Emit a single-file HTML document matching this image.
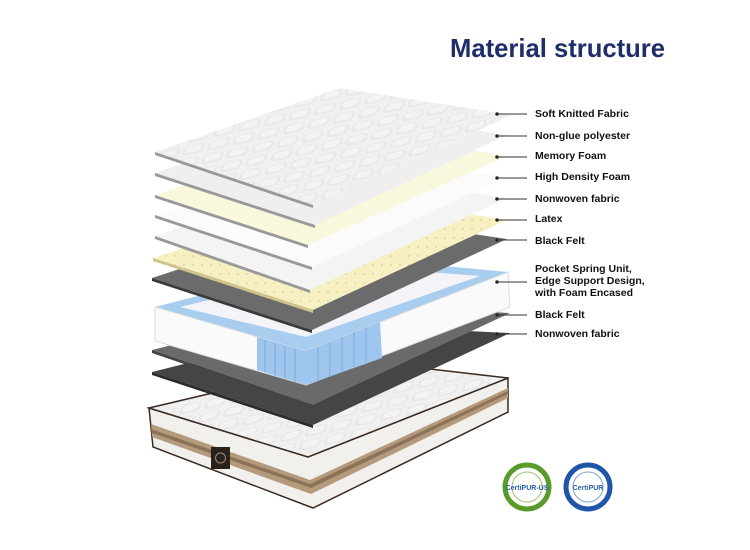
<!DOCTYPE html>
<html><head><meta charset="utf-8"><style>
html,body{margin:0;padding:0;background:#fff;}
svg{display:block;}
text{font-family:"Liberation Sans",Arial,sans-serif;}
.l{font-size:10.5px;font-weight:bold;fill:#111;}
</style></head><body>
<svg width="750" height="550" viewBox="0 0 750 550" xmlns="http://www.w3.org/2000/svg">
<defs>
<pattern id="q" width="22" height="14" patternUnits="userSpaceOnUse" patternTransform="skewX(-35) rotate(-14)">
<rect width="22" height="14" fill="#f0f0f0"/>
<rect x="2" y="2" width="18" height="10" rx="4" fill="#e8e8e8"/>
<rect x="4" y="3" width="14" height="7" rx="3" fill="#f3f3f3"/>
</pattern>
<pattern id="dots" width="9" height="9" patternUnits="userSpaceOnUse">
<rect width="9" height="9" fill="#f7f0c2"/><circle cx="4" cy="4" r="0.6" fill="#b7ad70"/>
</pattern>
</defs>
<rect width="750" height="550" fill="#fff"/>
<text x="450" y="57" font-size="26" font-weight="bold" fill="#1f2d6b" textLength="215" lengthAdjust="spacingAndGlyphs">Material structure</text>

<polygon points="149,408 153,447 313,508 508,412 508,378 308,457" fill="#f2f0ec" stroke="#3a2a22" stroke-width="1.5"/>
<polygon points="151,424 152,437 311,494 508,398 508,388 310,480" fill="#b49a7c"/>
<polygon points="151,429 152,433 311,488 508,394 508,391 310,484" fill="#8c7358"/>
<polygon points="149,408 352,360 508,378 308,457" fill="url(#q)" stroke="#3a2a22" stroke-width="1.5"/>
<rect x="211" y="447" width="19" height="22" fill="#2b211c"/>
<circle cx="220.5" cy="458" r="5" fill="none" stroke="#9c8a70" stroke-width="1"/>

<polygon points="152,372 340,325 510,333 313,425" fill="#454545"/>
<polygon points="152,372 313,425 313,428 152,375" fill="#2b2b2b"/>
<polygon points="152,350 340,303 510,313 313,405" fill="#6a6a6a"/>
<polygon points="152,350 313,405 313,408 152,353" fill="#444"/>

<polygon points="155,307 350,257 508,272 306,351" fill="#a9cdef"/>
<polygon points="180,307 350,266 480,276 306,337" fill="#f3f3f8"/>
<polygon points="155,307 306,351 306,385 155,341" fill="#fafafa" stroke="#ddd"/>
<polygon points="306,351 508,272 510,307 306,385" fill="#fafafa" stroke="#ddd"/>
<polygon points="257,337 306,351 380,322 382,358 306,385 257,370" fill="#9ec6ef"/>
<g stroke="#7ea9d6" stroke-width="1">
<line x1="265" y1="340" x2="265" y2="372"/><line x1="275" y1="343" x2="275" y2="376"/><line x1="285" y1="346" x2="285" y2="379"/><line x1="295" y1="349" x2="295" y2="382"/>
<line x1="318" y1="347" x2="318" y2="380"/><line x1="330" y1="342" x2="330" y2="376"/><line x1="342" y1="337" x2="342" y2="371"/><line x1="354" y1="332" x2="354" y2="367"/><line x1="366" y1="327" x2="366" y2="362"/>
</g>

<polygon points="152,278 345,215 507,239 312,330" fill="#6b6b6b"/>
<polygon points="152,278 312,330 312,333 152,281" fill="#3a3a3a"/>
<polygon points="153,258 345,195 507,220 313,310" fill="url(#dots)"/>
<polygon points="153,258 313,310 313,313 153,261" fill="#cfc48a"/>
<polygon points="155,236 345,173 507,198 310,290" fill="#f4f4f4"/>
<polygon points="155,236 310,290 310,293 155,239" fill="#999"/>
<polygon points="155,215 345,152 507,177 312,267" fill="#fbfbfb"/>
<polygon points="155,215 312,267 312,270 155,218" fill="#999"/>
<polygon points="155,195 345,131 507,156 308,245" fill="#f9f7dc"/>
<polygon points="155,195 308,245 308,248 155,198" fill="#999"/>
<polygon points="155,173 345,110 507,135 315,225" fill="#efefef"/>
<polygon points="155,173 315,225 315,228 155,176" fill="#999"/>
<polygon points="155,152 340,88 512,115 313,205" fill="url(#q)"/>
<polygon points="155,152 313,205 313,208 155,155" fill="#999"/>

<g stroke="#333" stroke-width="1" fill="#111">
<line x1="497" y1="114" x2="527" y2="114"/><circle cx="497" cy="114" r="1.3"/>
<line x1="497" y1="136" x2="527" y2="136"/><circle cx="497" cy="136" r="1.3"/>
<line x1="497" y1="157" x2="527" y2="157"/><circle cx="497" cy="157" r="1.3"/>
<line x1="497" y1="178" x2="527" y2="178"/><circle cx="497" cy="178" r="1.3"/>
<line x1="497" y1="199" x2="527" y2="199"/><circle cx="497" cy="199" r="1.3"/>
<line x1="497" y1="220" x2="527" y2="220"/><circle cx="497" cy="220" r="1.3"/>
<line x1="497" y1="240" x2="527" y2="240"/><circle cx="497" cy="240" r="1.3"/>
<line x1="497" y1="282" x2="527" y2="282"/><circle cx="497" cy="282" r="1.3"/>
<line x1="497" y1="315" x2="527" y2="315"/><circle cx="497" cy="315" r="1.3"/>
<line x1="497" y1="334" x2="527" y2="334"/><circle cx="497" cy="334" r="1.3"/>
</g>
<text class="l" x="535" y="117">Soft Knitted Fabric</text>
<text class="l" x="535" y="139">Non-glue polyester</text>
<text class="l" x="535" y="159">Memory Foam</text>
<text class="l" x="535" y="180">High Density Foam</text>
<text class="l" x="535" y="202">Nonwoven fabric</text>
<text class="l" x="535" y="222">Latex</text>
<text class="l" x="535" y="244">Black Felt</text>
<text class="l" x="535" y="272">Pocket Spring Unit,</text>
<text class="l" x="535" y="284">Edge Support Design,</text>
<text class="l" x="535" y="296">with Foam Encased</text>
<text class="l" x="535" y="318">Black Felt</text>
<text class="l" x="535" y="337">Nonwoven fabric</text>

<circle cx="527" cy="487" r="22" fill="#fff" stroke="#5a9a2a" stroke-width="5"/>
<circle cx="527" cy="487" r="15" fill="none" stroke="#9cc56e" stroke-width="1"/>
<text x="527" y="490" font-size="7" font-weight="bold" fill="#2a5fa8" text-anchor="middle">CertiPUR-US</text>
<circle cx="588" cy="487" r="22" fill="#fff" stroke="#1f56a8" stroke-width="5"/>
<circle cx="588" cy="487" r="15" fill="none" stroke="#7ea4d8" stroke-width="1"/>
<text x="588" y="490" font-size="7" font-weight="bold" fill="#2a5fa8" text-anchor="middle">CertiPUR</text>
</svg>
</body></html>
